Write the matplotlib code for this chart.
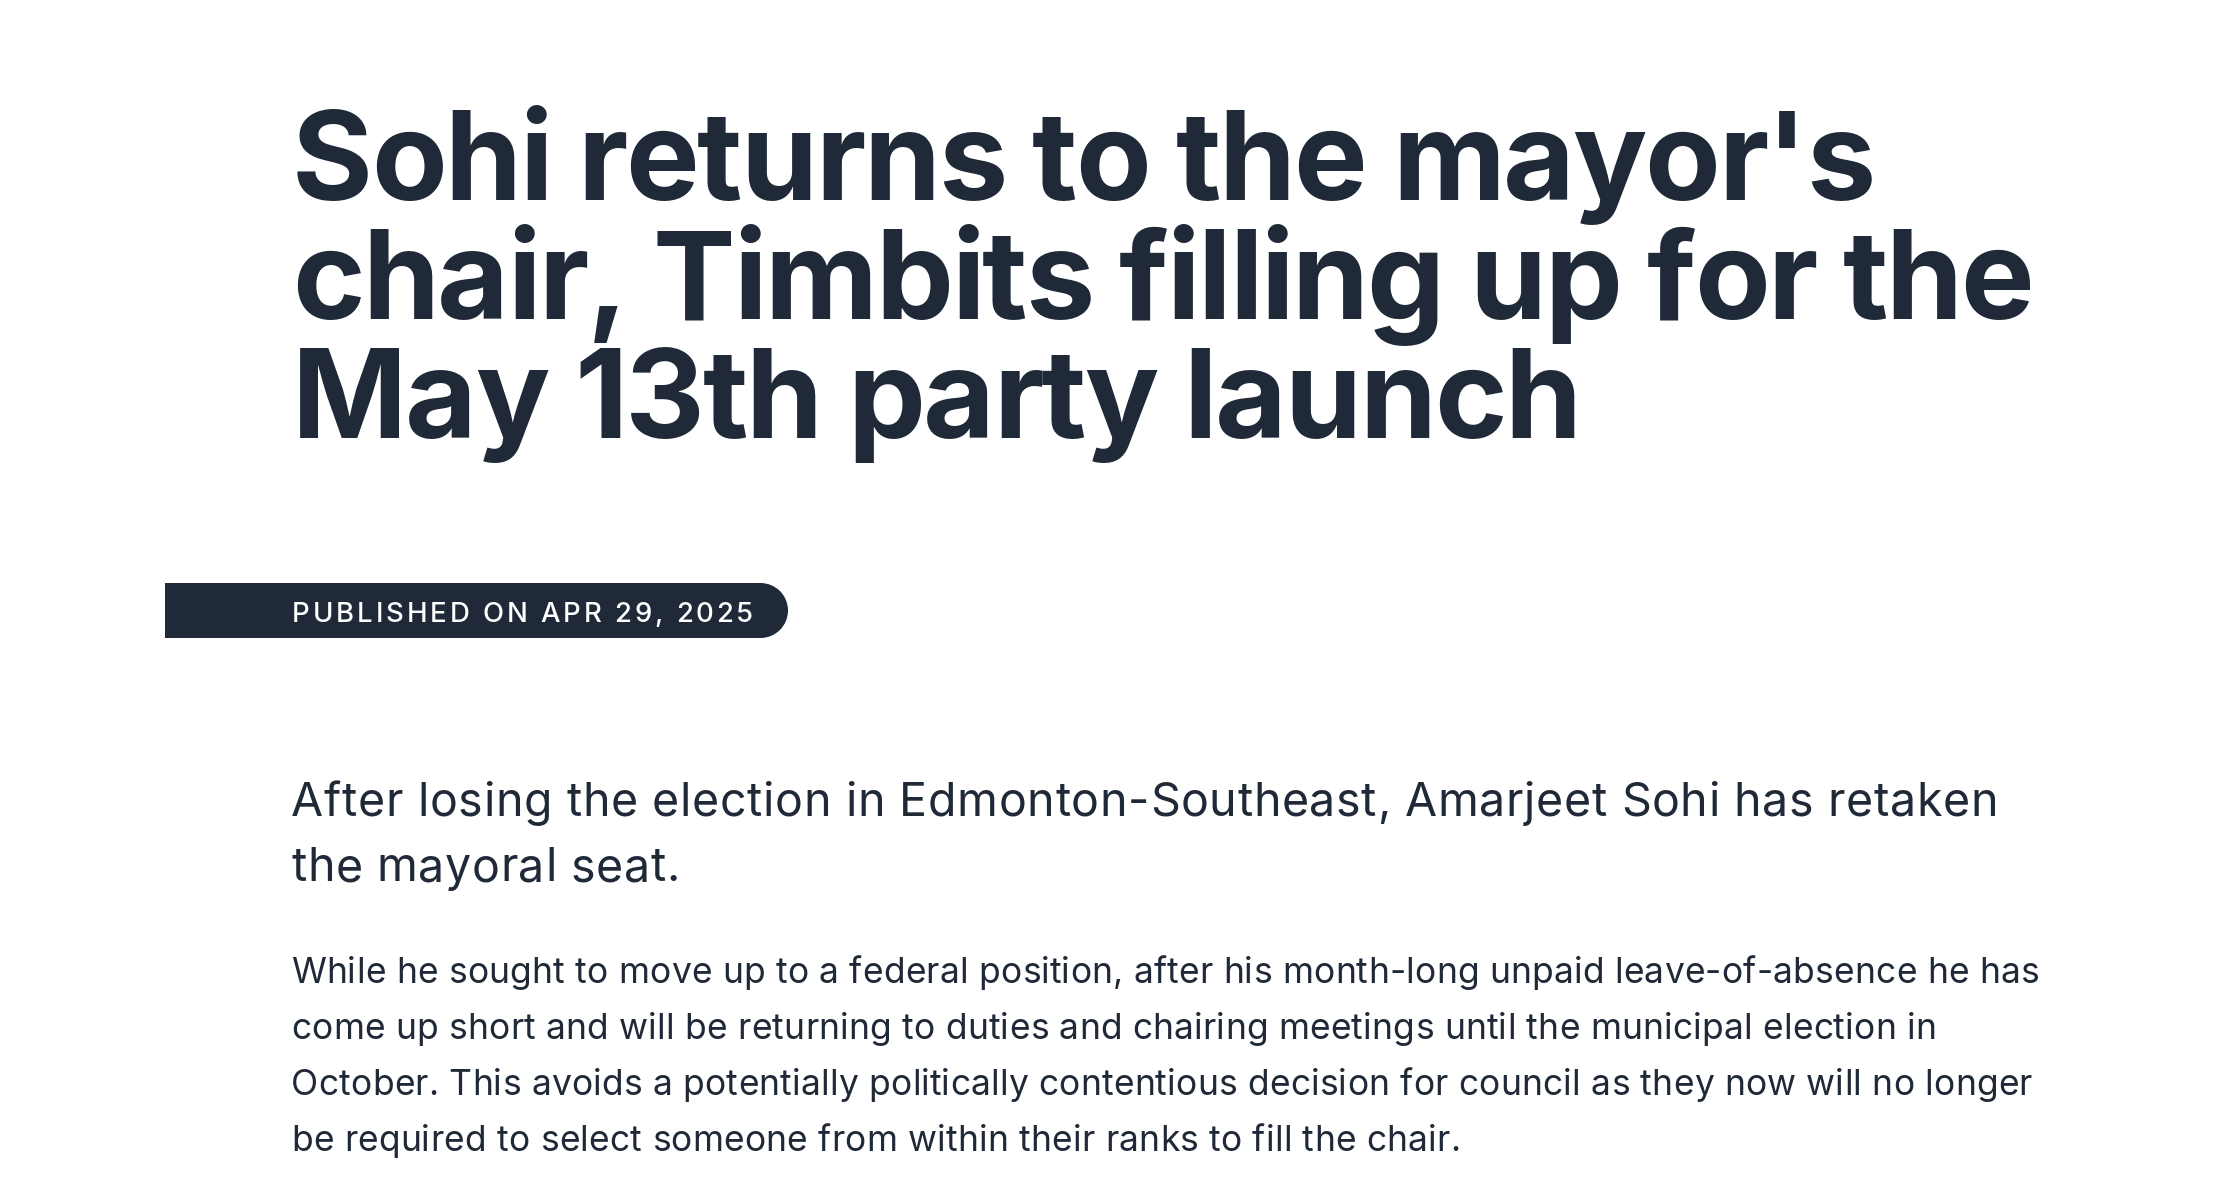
import matplotlib
matplotlib.use("Agg")
import matplotlib.pyplot as plt
from matplotlib.patches import Rectangle, Circle
from matplotlib.font_manager import FontProperties

W, H = 2236, 1190
INK = '#1f2937'

title_lines = ["Sohi returns to the mayor's",
               "chair, Timbits filling up for the",
               "May 13th party launch"]
badge_text = "PUBLISHED ON APR 29, 2025"
lede_lines = ["After losing the election in Edmonton-Southeast, Amarjeet Sohi has retaken",
              "the mayoral seat."]
body_lines = ["While he sought to move up to a federal position, after his month-long unpaid leave-of-absence he has",
              "come up short and will be returning to duties and chairing meetings until the municipal election in",
              "October. This avoids a potentially politically contentious decision for council as they now will no longer",
              "be required to select someone from within their ranks to fill the chair."]

FAMILY = ['Inter', 'DejaVu Sans']
plt.rcParams['font.family'] = FAMILY

fig = plt.figure(figsize=(W / 100, H / 100), dpi=100)
fig.patch.set_facecolor('white')
ax = fig.add_axes([0, 0, 1, 1])
ax.set_xlim(0, W)
ax.set_ylim(H, 0)
ax.axis('off')
renderer = fig.canvas.get_renderer()

X0 = 291  # left edge of the text column


def width(s, fp):
    return renderer.get_text_width_height_descent(s, fp, ismath=False)[0]


def tracking_for(s, fp, x0, x1):
    # extra px per character so the line spans x0..x1 like the web page
    return ((x1 - x0) - width(s, fp)) / (len(s) - 1)


def tracked(x, y, s, fp, track, color):
    for i, ch in enumerate(s):
        if ch == ' ':
            continue
        left = width(s[:i + 1], fp) - width(ch, fp)
        ax.text(x + left + i * track, y, ch, fontproperties=fp, color=color,
                ha='left', va='baseline')


# headline
fp_title = FontProperties(family=FAMILY, size=89, weight='bold')
t_title = tracking_for(title_lines[1], fp_title, X0 + 1, 2034)
for i, line in enumerate(title_lines):
    tracked(X0 + 1, 200 + i * 119, line, fp_title, t_title, INK)

# badge, square on the left, round on the right
bx0, bx1, by0, by1 = 165, 788, 583, 638
r = (by1 - by0) / 2
ax.add_patch(Rectangle((bx0, by0), bx1 - r - bx0, by1 - by0, color=INK, lw=0))
ax.add_patch(Circle((bx1 - r, by0 + r), r, color=INK, lw=0))
fp_badge = FontProperties(family=FAMILY, size=19.8, weight='medium')
t_badge = tracking_for(badge_text, fp_badge, X0 + 1, 753)
tracked(X0 + 1, 622, badge_text, fp_badge, t_badge, 'white')

# lede
fp_lede = FontProperties(family=FAMILY, size=33.5)
t_lede = tracking_for(lede_lines[0], fp_lede, X0, 1998)
for i, line in enumerate(lede_lines):
    tracked(X0, 816 + i * 65, line, fp_lede, t_lede, INK)

# body
fp_body = FontProperties(family=FAMILY, size=25.5)
t_body = tracking_for(body_lines[0], fp_body, X0, 2039)
for i, line in enumerate(body_lines):
    tracked(X0, 983 + i * 56, line, fp_body, t_body, INK)

fig.savefig('out.png', dpi=100, facecolor='white')
